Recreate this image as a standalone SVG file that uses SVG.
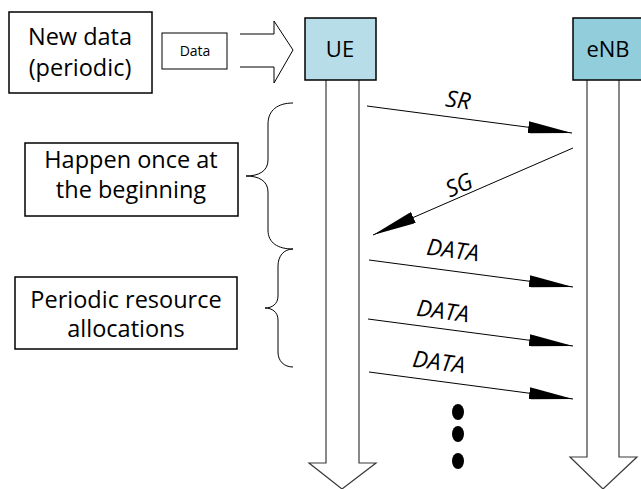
<svg xmlns="http://www.w3.org/2000/svg" width="641" height="489" viewBox="0 0 641 489">
<style>
text{font-family:"Open Sans","Noto Sans",sans-serif;fill:#000}
.box{fill:#fff;stroke:#000;stroke-width:1.5}
.lbl{font-size:23.5px;text-anchor:middle}
.msg{stroke:#000;stroke-width:1;fill:none}
.life{fill:none;stroke:#3a3a3a;stroke-width:1.2}
.brace{fill:none;stroke:#000;stroke-width:1}
.ml{font-size:23px;font-style:italic;text-anchor:middle}
</style>
<defs>
<marker id="ah" viewBox="0 0 44 12" refX="44" refY="6" markerWidth="44" markerHeight="12" markerUnits="userSpaceOnUse" orient="auto">
<path d="M0,0 L44,6 L0,12 Z" fill="#000"/>
</marker>
</defs>
<g id="newdata">
<rect class="box" x="9" y="12" width="143" height="81"/>
<text class="lbl" x="80" y="45">New data</text>
<text class="lbl" x="80" y="76">(periodic)</text>
</g>
<g id="data">
<rect x="162" y="33" width="65" height="36" fill="#fff" stroke="#000" stroke-width="1"/>
<text x="195" y="56" font-size="14" text-anchor="middle">Data</text>
</g>
<g id="inarrow">
<path d="M240,34 L274,34 L274,21 L293,50 L274,83 L274,67 L240,67" fill="#fff" stroke="#000" stroke-width="1"/>
</g>
<g id="ue">
<path class="life" d="M326,80 L326,463 L309,463 L342,489 L376,463 L359,463 L359,80" fill="#fff"/>
<rect x="305" y="18" width="71" height="62" fill="#b7dde8" stroke="#000" stroke-width="1.5"/>
<text x="340" y="57" font-size="22" text-anchor="middle">UE</text>
</g>
<g id="enb">
<path class="life" d="M587,80 L587,457 L570,457 L603,489 L637,457 L619,457 L619,80" fill="#fff"/>
<rect x="573" y="18" width="71" height="62" fill="#92cddc" stroke="#000" stroke-width="1.5"/>
<text x="608" y="57" font-size="22" text-anchor="middle">eNB</text>
</g>
<g id="happen">
<rect class="box" x="25" y="143" width="213" height="73"/>
<text class="lbl" x="131" y="168">Happen once at</text>
<text class="lbl" x="131" y="198">the beginning</text>
</g>
<g id="periodic">
<rect class="box" x="15" y="277" width="222" height="72"/>
<text class="lbl" x="126" y="308">Periodic resource</text>
<text class="lbl" x="126" y="337">allocations</text>
</g>
<g id="braces">
<path class="brace" d="M293,103 C278,103 268,110 268,124 L268,160 C268,171 259,176 246,176 C259,176 268,181 268,192 L268,230 C268,243 278,249 293,249"/>
<path class="brace" d="M293,249 C284,249 278,256 278,266 L278,296 C278,304 272,308 265,308 C272,308 278,312 278,320 L278,352 C278,361 284,367 293,367"/>
</g>
<g id="connectors">
<line class="msg" x1="367" y1="106" x2="572" y2="133" marker-end="url(#ah)"/>
<line class="msg" x1="573" y1="148" x2="373" y2="235" marker-end="url(#ah)"/>
<line class="msg" x1="369" y1="260" x2="573" y2="287" marker-end="url(#ah)"/>
<line class="msg" x1="368" y1="319" x2="573" y2="346" marker-end="url(#ah)"/>
<line class="msg" x1="369" y1="372" x2="573" y2="399" marker-end="url(#ah)"/>
<text class="ml" transform="translate(458,100) rotate(7.5)" y="8">SR</text>
<text class="ml" transform="translate(459,185) rotate(-23.5)" y="8">SG</text>
<text class="ml" transform="translate(453,250) rotate(7.5)" y="8">DATA</text>
<text class="ml" transform="translate(443,311) rotate(7.5)" y="8">DATA</text>
<text class="ml" transform="translate(439,362) rotate(7.5)" y="8">DATA</text>
</g>
<g id="dots">
<ellipse cx="458" cy="412" rx="6" ry="8"/>
<ellipse cx="458" cy="434" rx="6" ry="8"/>
<ellipse cx="458" cy="461" rx="6" ry="8"/>
</g>
</svg>
